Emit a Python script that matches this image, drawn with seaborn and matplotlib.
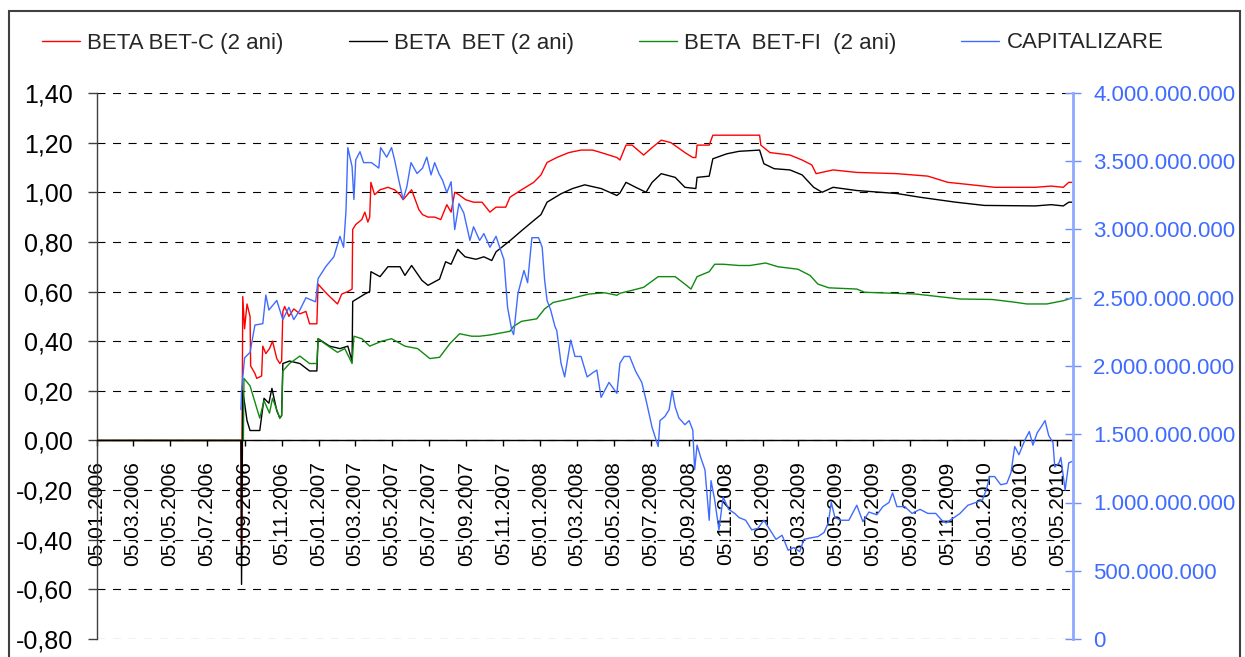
import matplotlib
matplotlib.use("Agg")
import matplotlib.pyplot as plt
import matplotlib.dates as mdates
from matplotlib.patches import Rectangle
import pandas as pd
import seaborn as sns

# ---------------- data ----------------
legend_labels = ["BETA BET-C (2 ani)", "BETA  BET (2 ani)", "BETA  BET-FI  (2 ani)", "CAPITALIZARE"]

red_dates = ["2006-01-05", "2006-08-30", "2006-08-31", "2006-09-02", "2006-09-05", "2006-09-09", "2006-09-14",
             "2006-09-15", "2006-09-22", "2006-09-25", "2006-10-03", "2006-10-05", "2006-10-10", "2006-10-16",
             "2006-10-21", "2006-10-28", "2006-11-02", "2006-11-05", "2006-11-07", "2006-11-10", "2006-11-17",
             "2006-11-25", "2006-12-05", "2006-12-15", "2006-12-21", "2007-01-02", "2007-01-04", "2007-01-15",
             "2007-01-23", "2007-02-05", "2007-02-12", "2007-02-22", "2007-03-01", "2007-03-02", "2007-03-07",
             "2007-03-17", "2007-03-22", "2007-03-27", "2007-03-30", "2007-04-01", "2007-04-07", "2007-04-16",
             "2007-04-29", "2007-05-10", "2007-05-19", "2007-05-24", "2007-06-07", "2007-06-19", "2007-06-25",
             "2007-07-04", "2007-07-15", "2007-07-25", "2007-08-04", "2007-08-11", "2007-08-17", "2007-08-24",
             "2007-09-04", "2007-09-17", "2007-10-01", "2007-10-14", "2007-10-24", "2007-11-09", "2007-11-16",
             "2007-12-05", "2007-12-25", "2008-01-06", "2008-01-16", "2008-02-01", "2008-02-21", "2008-03-12",
             "2008-03-31", "2008-04-14", "2008-05-10", "2008-05-15", "2008-05-25", "2008-06-04", "2008-06-23",
             "2008-07-07", "2008-07-22", "2008-08-07", "2008-08-30", "2008-09-12", "2008-09-17", "2008-09-19",
             "2008-10-09", "2008-10-15", "2008-12-31", "2009-01-02", "2009-01-17", "2009-02-19", "2009-03-11",
             "2009-03-27", "2009-04-03", "2009-05-01", "2009-06-09", "2009-08-14", "2009-10-04", "2009-11-06",
             "2009-11-26", "2010-01-22", "2010-03-30", "2010-04-25", "2010-05-15", "2010-05-24", "2010-05-29"]
red_vals = [0.00, 0.00, -0.42, 0.58, 0.45, 0.55, 0.50,
            0.30, 0.27, 0.25, 0.26, 0.38, 0.35, 0.37,
            0.40, 0.33, 0.31, 0.32, 0.52, 0.54, 0.50,
            0.53, 0.51, 0.52, 0.47, 0.47, 0.63, 0.60,
            0.58, 0.55, 0.59, 0.60, 0.61, 0.85, 0.87,
            0.89, 0.92, 0.88, 0.90, 1.04, 0.99, 1.01,
            1.02, 1.01, 0.99, 0.97, 1.01, 0.93, 0.91,
            0.90, 0.90, 0.89, 0.95, 0.92, 1.00, 0.99,
            0.97, 0.96, 0.96, 0.92, 0.94, 0.94, 0.98,
            1.01, 1.04, 1.07, 1.12, 1.14, 1.16, 1.17,
            1.17, 1.16, 1.14, 1.13, 1.19, 1.19, 1.15,
            1.18, 1.21, 1.20, 1.16, 1.14, 1.14, 1.19,
            1.19, 1.23, 1.23, 1.19, 1.16, 1.15, 1.13,
            1.11, 1.075, 1.09, 1.08, 1.075, 1.065, 1.04,
            1.035, 1.02, 1.02, 1.025, 1.02, 1.04, 1.04]

black_dates = ["2006-01-05", "2006-08-30", "2006-08-31", "2006-09-02", "2006-09-05", "2006-09-09", "2006-09-14",
               "2006-09-30", "2006-10-07", "2006-10-15", "2006-10-20", "2006-10-28", "2006-11-02", "2006-11-05",
               "2006-11-07", "2006-11-18", "2006-12-05", "2006-12-21", "2007-01-02", "2007-01-04", "2007-01-23",
               "2007-02-09", "2007-02-22", "2007-03-01", "2007-03-02", "2007-03-22", "2007-03-30", "2007-04-01",
               "2007-04-16", "2007-04-29", "2007-05-19", "2007-05-27", "2007-06-07", "2007-06-24", "2007-07-04",
               "2007-07-23", "2007-08-02", "2007-08-11", "2007-08-22", "2007-09-03", "2007-09-21", "2007-10-04",
               "2007-10-17", "2007-10-24", "2007-11-16", "2007-12-05", "2007-12-25", "2008-01-06", "2008-01-16",
               "2008-02-08", "2008-02-27", "2008-03-18", "2008-04-14", "2008-05-10", "2008-05-15", "2008-05-25",
               "2008-06-10", "2008-06-27", "2008-07-07", "2008-07-22", "2008-08-14", "2008-08-30", "2008-09-17",
               "2008-09-19", "2008-10-09", "2008-10-15", "2008-11-07", "2008-11-27", "2008-12-31", "2009-01-07",
               "2009-01-24", "2009-02-19", "2009-03-11", "2009-03-30", "2009-04-13", "2009-05-01", "2009-06-09",
               "2009-08-14", "2009-09-21", "2009-11-19", "2010-01-05", "2010-03-30", "2010-04-25", "2010-05-15",
               "2010-05-24", "2010-05-29"]
black_vals = [0.00, 0.00, -0.58, 0.20, 0.15, 0.08, 0.04,
              0.04, 0.17, 0.15, 0.21, 0.12, 0.09, 0.10,
              0.31, 0.32, 0.31, 0.28, 0.28, 0.41, 0.38,
              0.37, 0.38, 0.32, 0.56, 0.59, 0.60, 0.68,
              0.66, 0.70, 0.70, 0.665, 0.705, 0.645, 0.625,
              0.65, 0.72, 0.71, 0.77, 0.74, 0.73, 0.74,
              0.725, 0.76, 0.805, 0.845, 0.886, 0.91, 0.96,
              0.994, 1.015, 1.03, 1.015, 0.987, 0.997, 1.04,
              1.02, 1.00, 1.04, 1.075, 1.06, 1.02, 1.015,
              1.06, 1.065, 1.135, 1.155, 1.165, 1.17, 1.115,
              1.095, 1.09, 1.07, 1.02, 1.00, 1.02, 1.007,
              0.995, 0.98, 0.96, 0.947, 0.945, 0.95, 0.945,
              0.96, 0.96]

green_dates = ["2006-01-05", "2006-09-03", "2006-09-04", "2006-09-14", "2006-09-30", "2006-10-07", "2006-10-16",
               "2006-10-21", "2006-11-02", "2006-11-05", "2006-11-07", "2006-11-18", "2006-12-05", "2006-12-21",
               "2007-01-02", "2007-01-04", "2007-01-15", "2007-02-05", "2007-02-17", "2007-03-01", "2007-03-04",
               "2007-03-17", "2007-03-30", "2007-04-19", "2007-05-05", "2007-05-27", "2007-06-17", "2007-07-07",
               "2007-07-23", "2007-08-09", "2007-08-25", "2007-09-14", "2007-09-27", "2007-10-14", "2007-11-16",
               "2007-11-22", "2007-12-05", "2007-12-30", "2008-01-12", "2008-01-26", "2008-02-21", "2008-03-25",
               "2008-04-20", "2008-05-10", "2008-05-15", "2008-06-04", "2008-06-23", "2008-07-17", "2008-08-14",
               "2008-08-30", "2008-09-09", "2008-09-19", "2008-10-09", "2008-10-18", "2008-11-01", "2008-11-27",
               "2008-12-15", "2009-01-10", "2009-01-30", "2009-03-04", "2009-03-24", "2009-04-06", "2009-04-24",
               "2009-06-09", "2009-06-22", "2009-09-14", "2009-11-26", "2010-01-18", "2010-02-24", "2010-03-16",
               "2010-04-18", "2010-05-15", "2010-05-24", "2010-05-29"]
green_vals = [0.00, 0.00, 0.25, 0.22, 0.09, 0.16, 0.11,
              0.17, 0.09, 0.10, 0.28, 0.31, 0.34, 0.31,
              0.31, 0.41, 0.39, 0.355, 0.37, 0.31, 0.42,
              0.41, 0.38, 0.40, 0.41, 0.38, 0.37, 0.33,
              0.335, 0.39, 0.43, 0.42, 0.42, 0.425, 0.44,
              0.46, 0.48, 0.49, 0.53, 0.556, 0.57, 0.59,
              0.595, 0.585, 0.593, 0.605, 0.617, 0.66, 0.66,
              0.63, 0.61, 0.66, 0.68, 0.71, 0.71, 0.705,
              0.705, 0.715, 0.70, 0.69, 0.665, 0.63, 0.615,
              0.61, 0.597, 0.59, 0.57, 0.568, 0.557, 0.55,
              0.55, 0.563, 0.57, 0.575]

cap_dates = ["2006-08-30", "2006-08-31", "2006-09-05", "2006-09-14", "2006-09-22", "2006-10-05", "2006-10-10",
             "2006-10-15", "2006-10-28", "2006-11-07", "2006-11-17", "2006-11-25", "2006-12-05", "2006-12-15",
             "2006-12-31", "2007-01-04", "2007-01-17", "2007-01-30", "2007-02-09", "2007-02-15", "2007-02-19",
             "2007-02-22", "2007-03-01", "2007-03-04", "2007-03-07", "2007-03-14", "2007-03-20", "2007-04-02",
             "2007-04-14", "2007-04-17", "2007-04-27", "2007-05-05", "2007-05-10", "2007-05-17", "2007-05-24",
             "2007-05-30", "2007-06-06", "2007-06-16", "2007-06-25", "2007-07-02", "2007-07-09", "2007-07-15",
             "2007-07-22", "2007-07-28", "2007-08-04", "2007-08-11", "2007-08-17", "2007-08-24", "2007-09-01",
             "2007-09-11", "2007-09-17", "2007-09-27", "2007-10-04", "2007-10-14", "2007-10-24", "2007-10-30",
             "2007-11-06", "2007-11-12", "2007-11-19", "2007-11-22", "2007-11-29", "2007-12-09", "2007-12-15",
             "2007-12-22", "2008-01-02", "2008-01-08", "2008-01-12", "2008-01-16", "2008-01-22", "2008-01-29",
             "2008-02-01", "2008-02-08", "2008-02-14", "2008-02-24", "2008-03-02", "2008-03-12", "2008-03-22",
             "2008-03-31", "2008-04-07", "2008-04-14", "2008-04-27", "2008-05-10", "2008-05-15", "2008-05-22",
             "2008-05-31", "2008-06-10", "2008-06-20", "2008-06-27", "2008-07-03", "2008-07-07", "2008-07-17",
             "2008-07-20", "2008-07-28", "2008-08-04", "2008-08-09", "2008-08-14", "2008-08-20", "2008-08-30",
             "2008-09-06", "2008-09-12", "2008-09-15", "2008-09-19", "2008-09-25", "2008-10-02", "2008-10-09",
             "2008-10-12", "2008-10-18", "2008-10-25", "2008-11-01", "2008-11-10", "2008-11-20", "2008-11-27",
             "2008-12-08", "2008-12-18", "2008-12-28", "2009-01-07", "2009-01-17", "2009-01-27", "2009-02-06",
             "2009-02-16", "2009-02-25", "2009-03-07", "2009-03-14", "2009-03-24", "2009-04-06", "2009-04-16",
             "2009-04-23", "2009-04-28", "2009-05-04", "2009-05-14", "2009-05-27", "2009-06-09", "2009-06-19",
             "2009-06-29", "2009-07-12", "2009-07-22", "2009-08-01", "2009-08-07", "2009-08-14", "2009-08-27",
             "2009-09-08", "2009-09-21", "2009-10-04", "2009-10-17", "2009-10-27", "2009-11-03", "2009-11-16",
             "2009-11-26", "2009-12-09", "2009-12-22", "2010-01-02", "2010-01-08", "2010-01-14", "2010-01-22",
             "2010-02-01", "2010-02-11", "2010-02-18", "2010-02-24", "2010-03-03", "2010-03-13", "2010-03-20",
             "2010-03-26", "2010-04-02", "2010-04-08", "2010-04-15", "2010-04-21", "2010-04-28", "2010-05-01",
             "2010-05-08", "2010-05-11", "2010-05-18", "2010-05-21", "2010-05-24", "2010-05-29"]
# capitalizare, miliarde
cap_bn = [1.68, 1.82, 2.06, 2.10, 2.30, 2.31, 2.52,
          2.41, 2.48, 2.34, 2.43, 2.34, 2.41, 2.50,
          2.47, 2.64, 2.73, 2.80, 2.95, 2.87, 3.14,
          3.60, 3.46, 3.22, 3.51, 3.57, 3.49, 3.49,
          3.45, 3.60, 3.53, 3.60, 3.51, 3.36, 3.22,
          3.31, 3.49, 3.41, 3.45, 3.53, 3.40, 3.49,
          3.41, 3.36, 3.27, 3.35, 3.00, 3.19, 3.12,
          2.92, 3.02, 2.92, 2.97, 2.87, 2.95, 2.87,
          2.78, 2.43, 2.26, 2.23, 2.53, 2.70, 2.61,
          2.94, 2.94, 2.87, 2.63, 2.48, 2.41, 2.29,
          2.26, 2.02, 1.92, 2.19, 2.07, 2.07, 1.92,
          1.95, 1.97, 1.77, 1.88, 1.80, 2.02, 2.07,
          2.07, 1.96, 1.88, 1.75, 1.63, 1.55, 1.41,
          1.60, 1.63, 1.68, 1.82, 1.70, 1.62, 1.57,
          1.60, 1.53, 1.24, 1.42, 1.33, 1.24, 0.87,
          1.16, 1.02, 0.80, 1.04, 0.95, 0.92, 0.89,
          0.87, 0.80, 0.81, 0.87, 0.80, 0.73, 0.76,
          0.65, 0.67, 0.64, 0.73, 0.74, 0.75, 0.78,
          0.85, 1.00, 0.89, 0.87, 0.87, 0.98, 0.86,
          0.93, 0.91, 0.97, 1.00, 1.07, 0.97, 0.97,
          0.92, 0.95, 0.92, 0.92, 0.87, 0.85, 0.89,
          0.92, 0.98, 1.00, 1.02, 1.09, 1.19, 1.19,
          1.13, 1.14, 1.22, 1.41, 1.35, 1.46, 1.52,
          1.42, 1.51, 1.55, 1.60, 1.49, 1.44, 1.26,
          1.29, 1.33, 1.09, 1.19, 1.29, 1.30]

x_tick_labels = ["05.01.2006", "05.03.2006", "05.05.2006", "05.07.2006", "05.09.2006", "05.11.2006",
                 "05.01.2007", "05.03.2007", "05.05.2007", "05.07.2007", "05.09.2007", "05.11.2007",
                 "05.01.2008", "05.03.2008", "05.05.2008", "05.07.2008", "05.09.2008", "05.11.2008",
                 "05.01.2009", "05.03.2009", "05.05.2009", "05.07.2009", "05.09.2009", "05.11.2009",
                 "05.01.2010", "05.03.2010", "05.05.2010"]
y_left_ticks = [1.40, 1.20, 1.00, 0.80, 0.60, 0.40, 0.20, 0.00, -0.20, -0.40, -0.60, -0.80]
y_left_labels = ["1,40", "1,20", "1,00", "0,80", "0,60", "0,40", "0,20", "0,00",
                 "-0,20", "-0,40", "-0,60", "-0,80"]
y_right_ticks = [4.0e9, 3.5e9, 3.0e9, 2.5e9, 2.0e9, 1.5e9, 1.0e9, 0.5e9, 0.0]
y_right_labels = ["4.000.000.000", "3.500.000.000", "3.000.000.000", "2.500.000.000",
                  "2.000.000.000", "1.500.000.000", "1.000.000.000", "500.000.000", "0"]
x_start, x_end = "2006-01-05", "2010-05-31"

# ---------------- style ----------------
RED, BLACK, GREEN, BLUE = "#FF0000", "#000000", "#118A11", "#3F6BFF"
sns.set_theme(style="white")
plt.rcParams["font.family"] = ["Liberation Sans", "DejaVu Sans"]

W, H = 1245, 657
fig = plt.figure(figsize=(W / 100, H / 100), dpi=100)
ax = fig.add_axes([97 / W, 1 - 639 / H, (1073 - 97) / W, (639 - 93) / H])
ax2 = ax.twinx()


def frame(dates, vals, scale=1.0):
    return pd.DataFrame({"date": pd.to_datetime(dates), "value": [v * scale for v in vals]})


handles = []
for d, v, c in [(red_dates, red_vals, RED), (black_dates, black_vals, BLACK), (green_dates, green_vals, GREEN)]:
    sns.lineplot(data=frame(d, v), x="date", y="value", ax=ax, color=c, lw=1.0,
                 estimator=None, sort=False, legend=False)
    handles.append(ax.get_lines()[-1])
sns.lineplot(data=frame(cap_dates, cap_bn, 1e9), x="date", y="value", ax=ax2, color=BLUE, lw=1.0,
             estimator=None, sort=False, legend=False)
handles.append(ax2.get_lines()[-1])

# left axis
ax.set_ylim(-0.80, 1.40)
ax.set_yticks(y_left_ticks)
ax.set_yticklabels(y_left_labels)
ax.set_xlim(mdates.date2num(pd.Timestamp(x_start)), mdates.date2num(pd.Timestamp(x_end)))
tick_pos = mdates.date2num(pd.to_datetime(x_tick_labels, format="%d.%m.%Y").to_pydatetime())
ax.set_xticks(tick_pos)
ax.set_xticklabels(x_tick_labels)
ax.set_xlabel("")
ax.set_ylabel("")
ax.set_axisbelow(True)
ax.yaxis.grid(True, color="black", lw=0.8, linestyle=(0, (7.2, 6.8)))
ax.xaxis.grid(False)
for s in ["top", "right"]:
    ax.spines[s].set_visible(False)
ax.spines["bottom"].set_position(("data", 0))
ax.spines["bottom"].set_color("black")
ax.spines["bottom"].set_linewidth(1.0)
ax.spines["left"].set_color("#404040")
ax.spines["left"].set_linewidth(1.0)
ax.tick_params(axis="y", which="major", direction="out", length=6.5, width=1.0, color="#404040",
               pad=10.8, labelsize=18, labelcolor="black", left=True)
ax.tick_params(axis="x", which="major", direction="out", length=4.3, width=1.0, color="black",
               pad=10.8, labelsize=15, labelcolor="black", bottom=True, labelrotation=90)
for lbl in ax.get_xticklabels():
    lbl.set_rotation(90)
    lbl.set_va("top")
    lbl.set_ha("center")

# right axis
ax2.set_ylim(0, 4.0e9)
ax2.set_yticks(y_right_ticks)
ax2.set_yticklabels(y_right_labels)
ax2.set_ylabel("")
ax2.grid(False)
for s in ["top", "left", "bottom"]:
    ax2.spines[s].set_visible(False)
ax2.spines["right"].set_color("#8EA8FF")
ax2.spines["right"].set_linewidth(2.0)
ax2.tick_params(axis="y", which="major", direction="inout", length=12.2, width=1.0, color="#6F8FFF",
                pad=8.3, labelsize=16, labelcolor="#3F6BFF", right=True)

# legend
fig.legend(handles, legend_labels, loc="center left", bbox_to_anchor=(42 / W, 1 - 43 / H),
           ncol=4, frameon=False, fontsize=16, handlelength=1.71, handletextpad=0.32,
           columnspacing=2.93, borderpad=0, borderaxespad=0)

# outer chart frame
fig.add_artist(Rectangle((9 / W, -0.1), (1240 - 9) / W, 1 - 11 / H + 0.1, transform=fig.transFigure,
                         fill=False, edgecolor="#404040", lw=1.5, clip_on=False))

fig.savefig("out.png", dpi=100)
